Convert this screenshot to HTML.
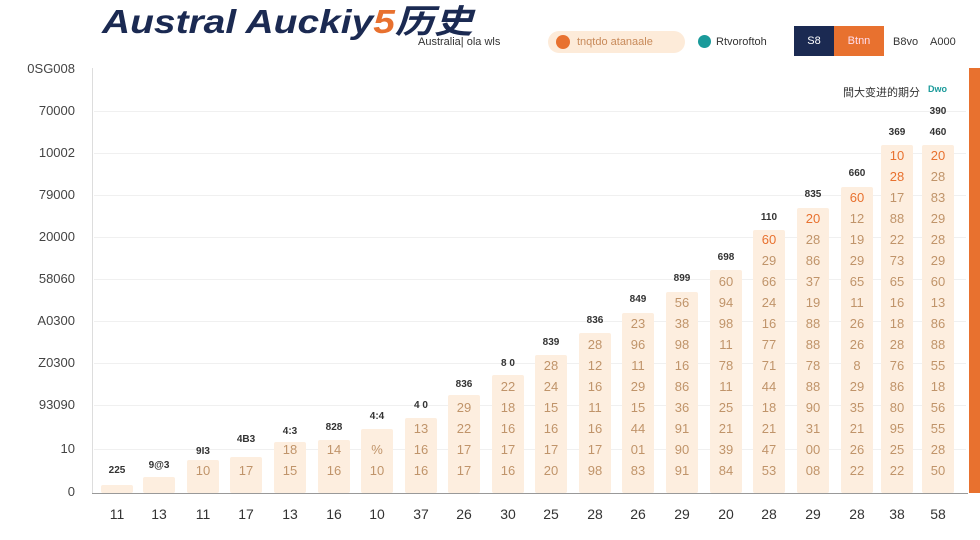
<!DOCTYPE html>
<html><head><meta charset="utf-8"><style>
body{margin:0;width:980px;height:540px;background:#fff;position:relative;overflow:hidden;font-family:"Liberation Sans","Noto Sans CJK SC",sans-serif;}
.a{position:absolute}
.yl{position:absolute;left:0;width:75px;text-align:right;font-size:13px;color:#444}
.g{position:absolute;left:94px;width:872px;height:1px;background:#f0f0f0}
.bar{position:absolute;width:32px;background:#fdeedf;bottom:47px;border-radius:2px}
.c{position:absolute;width:40px;text-align:center;font-size:13px;color:#c0946a}
.t{position:absolute;width:40px;text-align:center;font-size:10px;color:#333;font-weight:bold}
.xl{position:absolute;top:506px;width:40px;text-align:center;font-size:14px;color:#333}
</style></head><body>
<div class="a" style="left:102px;top:-5px;font-size:33px;font-weight:bold;font-style:italic;color:#1b2a52;transform:scaleX(1.18);transform-origin:0 0;white-space:nowrap">Austral Auckiy<span style="color:#e8712f">5</span>历史</div>
<div class="a" style="left:418px;top:36px;font-size:11px;color:#333">Australia| ola wls</div>
<div class="a" style="left:548px;top:31px;width:137px;height:22px;border-radius:11px;background:#fdebd9"></div>
<div class="a" style="left:556px;top:35px;width:14px;height:14px;border-radius:7px;background:#e8712f"></div>
<div class="a" style="left:577px;top:36px;font-size:11px;color:#c88a5a">tnqtdo atanaale</div>
<div class="a" style="left:698px;top:35px;width:13px;height:13px;border-radius:7px;background:#1a9a9a"></div>
<div class="a" style="left:716px;top:36px;font-size:11px;color:#333">Rtvoroftoh</div>
<div class="a" style="left:794px;top:26px;width:40px;height:30px;background:#1b2a52;color:#fff;font-size:11px;text-align:center;line-height:30px">S8</div>
<div class="a" style="left:834px;top:26px;width:50px;height:30px;background:#e8712f;color:#fde;font-size:11px;text-align:center;line-height:30px">Btnn</div>
<div class="a" style="left:893px;top:36px;font-size:11px;color:#333">B8vo</div>
<div class="a" style="left:930px;top:36px;font-size:11px;color:#333">A000</div>
<div class="a" style="left:843px;top:84px;font-size:11px;color:#333">間大变进的期分</div>
<div class="a" style="left:928px;top:84px;font-size:9px;color:#1a9a9a;font-weight:bold">Dwo</div>
<div class="a" style="left:969px;top:68px;width:11px;height:425px;background:#e8712f"></div>
<div class="a" style="left:92px;top:68px;width:1px;height:425px;background:#ddd"></div>
<div class="a" style="left:92px;top:493px;width:876px;height:1px;background:#999"></div>
<div class="g" style="top:111px"></div><div class="g" style="top:153px"></div><div class="g" style="top:195px"></div><div class="g" style="top:237px"></div><div class="g" style="top:279px"></div><div class="g" style="top:321px"></div><div class="g" style="top:363px"></div><div class="g" style="top:405px"></div><div class="g" style="top:449px"></div>
<div class="yl" style="top:61px">0SG008</div><div class="yl" style="top:103px">70000</div><div class="yl" style="top:145px">10002</div><div class="yl" style="top:187px">79000</div><div class="yl" style="top:229px">20000</div><div class="yl" style="top:271px">58060</div><div class="yl" style="top:313px">A0300</div><div class="yl" style="top:355px">Z0300</div><div class="yl" style="top:397px">93090</div><div class="yl" style="top:441px">10</div><div class="yl" style="top:484px">0</div>

<div class="bar" style="left:101px;top:485px"></div><div class="t" style="left:97px;top:465px">225</div>
<div class="bar" style="left:143px;top:477px"></div><div class="t" style="left:139px;top:460px">9@3</div>
<div class="bar" style="left:187px;top:460px"></div><div class="t" style="left:183px;top:446px">9I3</div><div class="c" style="left:183px;top:463px">10</div>
<div class="bar" style="left:230px;top:457px"></div><div class="t" style="left:226px;top:434px">4B3</div><div class="c" style="left:226px;top:463px">17</div>
<div class="bar" style="left:274px;top:442px"></div><div class="t" style="left:270px;top:426px">4:3</div><div class="c" style="left:270px;top:442px">18</div><div class="c" style="left:270px;top:463px">15</div>
<div class="bar" style="left:318px;top:440px"></div><div class="t" style="left:314px;top:422px">828</div><div class="c" style="left:314px;top:442px">14</div><div class="c" style="left:314px;top:463px">16</div>
<div class="bar" style="left:361px;top:429px"></div><div class="t" style="left:357px;top:411px">4:4</div><div class="c" style="left:357px;top:442px">%</div><div class="c" style="left:357px;top:463px">10</div>
<div class="bar" style="left:405px;top:418px"></div><div class="t" style="left:401px;top:400px">4 0</div><div class="c" style="left:401px;top:421px">13</div><div class="c" style="left:401px;top:442px">16</div><div class="c" style="left:401px;top:463px">16</div>
<div class="bar" style="left:448px;top:395px"></div><div class="t" style="left:444px;top:379px">836</div><div class="c" style="left:444px;top:400px">29</div><div class="c" style="left:444px;top:421px">22</div><div class="c" style="left:444px;top:442px">17</div><div class="c" style="left:444px;top:463px">17</div>
<div class="bar" style="left:492px;top:375px"></div><div class="t" style="left:488px;top:358px">8 0</div><div class="c" style="left:488px;top:379px">22</div><div class="c" style="left:488px;top:400px">18</div><div class="c" style="left:488px;top:421px">16</div><div class="c" style="left:488px;top:442px">17</div><div class="c" style="left:488px;top:463px">16</div>
<div class="bar" style="left:535px;top:355px"></div><div class="t" style="left:531px;top:337px">839</div><div class="c" style="left:531px;top:358px">28</div><div class="c" style="left:531px;top:379px">24</div><div class="c" style="left:531px;top:400px">15</div><div class="c" style="left:531px;top:421px">16</div><div class="c" style="left:531px;top:442px">17</div><div class="c" style="left:531px;top:463px">20</div>
<div class="bar" style="left:579px;top:333px"></div><div class="t" style="left:575px;top:315px">836</div><div class="c" style="left:575px;top:337px">28</div><div class="c" style="left:575px;top:358px">12</div><div class="c" style="left:575px;top:379px">16</div><div class="c" style="left:575px;top:400px">11</div><div class="c" style="left:575px;top:421px">16</div><div class="c" style="left:575px;top:442px">17</div><div class="c" style="left:575px;top:463px">98</div>
<div class="bar" style="left:622px;top:313px"></div><div class="t" style="left:618px;top:294px">849</div><div class="c" style="left:618px;top:316px">23</div><div class="c" style="left:618px;top:337px">96</div><div class="c" style="left:618px;top:358px">11</div><div class="c" style="left:618px;top:379px">29</div><div class="c" style="left:618px;top:400px">15</div><div class="c" style="left:618px;top:421px">44</div><div class="c" style="left:618px;top:442px">01</div><div class="c" style="left:618px;top:463px">83</div>
<div class="bar" style="left:666px;top:292px"></div><div class="t" style="left:662px;top:273px">899</div><div class="c" style="left:662px;top:295px">56</div><div class="c" style="left:662px;top:316px">38</div><div class="c" style="left:662px;top:337px">98</div><div class="c" style="left:662px;top:358px">16</div><div class="c" style="left:662px;top:379px">86</div><div class="c" style="left:662px;top:400px">36</div><div class="c" style="left:662px;top:421px">91</div><div class="c" style="left:662px;top:442px">90</div><div class="c" style="left:662px;top:463px">91</div>
<div class="bar" style="left:710px;top:270px"></div><div class="t" style="left:706px;top:252px">698</div><div class="c" style="left:706px;top:274px">60</div><div class="c" style="left:706px;top:295px">94</div><div class="c" style="left:706px;top:316px">98</div><div class="c" style="left:706px;top:337px">11</div><div class="c" style="left:706px;top:358px">78</div><div class="c" style="left:706px;top:379px">11</div><div class="c" style="left:706px;top:400px">25</div><div class="c" style="left:706px;top:421px">21</div><div class="c" style="left:706px;top:442px">39</div><div class="c" style="left:706px;top:463px">84</div>
<div class="bar" style="left:753px;top:230px"></div><div class="t" style="left:749px;top:212px">110</div><div class="c" style="left:749px;top:232px;color:#e8712f">60</div><div class="c" style="left:749px;top:253px">29</div><div class="c" style="left:749px;top:274px">66</div><div class="c" style="left:749px;top:295px">24</div><div class="c" style="left:749px;top:316px">16</div><div class="c" style="left:749px;top:337px">77</div><div class="c" style="left:749px;top:358px">71</div><div class="c" style="left:749px;top:379px">44</div><div class="c" style="left:749px;top:400px">18</div><div class="c" style="left:749px;top:421px">21</div><div class="c" style="left:749px;top:442px">47</div><div class="c" style="left:749px;top:463px">53</div>
<div class="bar" style="left:797px;top:208px"></div><div class="t" style="left:793px;top:189px">835</div><div class="c" style="left:793px;top:211px;color:#e8712f">20</div><div class="c" style="left:793px;top:232px">28</div><div class="c" style="left:793px;top:253px">86</div><div class="c" style="left:793px;top:274px">37</div><div class="c" style="left:793px;top:295px">19</div><div class="c" style="left:793px;top:316px">88</div><div class="c" style="left:793px;top:337px">88</div><div class="c" style="left:793px;top:358px">78</div><div class="c" style="left:793px;top:379px">88</div><div class="c" style="left:793px;top:400px">90</div><div class="c" style="left:793px;top:421px">31</div><div class="c" style="left:793px;top:442px">00</div><div class="c" style="left:793px;top:463px">08</div>
<div class="bar" style="left:841px;top:187px"></div><div class="t" style="left:837px;top:168px">660</div><div class="c" style="left:837px;top:190px;color:#e8712f">60</div><div class="c" style="left:837px;top:211px">12</div><div class="c" style="left:837px;top:232px">19</div><div class="c" style="left:837px;top:253px">29</div><div class="c" style="left:837px;top:274px">65</div><div class="c" style="left:837px;top:295px">11</div><div class="c" style="left:837px;top:316px">26</div><div class="c" style="left:837px;top:337px">26</div><div class="c" style="left:837px;top:358px">8</div><div class="c" style="left:837px;top:379px">29</div><div class="c" style="left:837px;top:400px">35</div><div class="c" style="left:837px;top:421px">21</div><div class="c" style="left:837px;top:442px">26</div><div class="c" style="left:837px;top:463px">22</div>
<div class="bar" style="left:881px;top:145px"></div><div class="t" style="left:877px;top:127px">369</div><div class="c" style="left:877px;top:148px;color:#e8712f">10</div><div class="c" style="left:877px;top:169px;color:#e8712f">28</div><div class="c" style="left:877px;top:190px">17</div><div class="c" style="left:877px;top:211px">88</div><div class="c" style="left:877px;top:232px">22</div><div class="c" style="left:877px;top:253px">73</div><div class="c" style="left:877px;top:274px">65</div><div class="c" style="left:877px;top:295px">16</div><div class="c" style="left:877px;top:316px">18</div><div class="c" style="left:877px;top:337px">28</div><div class="c" style="left:877px;top:358px">76</div><div class="c" style="left:877px;top:379px">86</div><div class="c" style="left:877px;top:400px">80</div><div class="c" style="left:877px;top:421px">95</div><div class="c" style="left:877px;top:442px">25</div><div class="c" style="left:877px;top:463px">22</div>
<div class="bar" style="left:922px;top:145px"></div><div class="t" style="left:918px;top:106px">390</div><div class="t" style="left:918px;top:127px">460</div><div class="c" style="left:918px;top:148px;color:#e8712f">20</div><div class="c" style="left:918px;top:169px">28</div><div class="c" style="left:918px;top:190px">83</div><div class="c" style="left:918px;top:211px">29</div><div class="c" style="left:918px;top:232px">28</div><div class="c" style="left:918px;top:253px">29</div><div class="c" style="left:918px;top:274px">60</div><div class="c" style="left:918px;top:295px">13</div><div class="c" style="left:918px;top:316px">86</div><div class="c" style="left:918px;top:337px">88</div><div class="c" style="left:918px;top:358px">55</div><div class="c" style="left:918px;top:379px">18</div><div class="c" style="left:918px;top:400px">56</div><div class="c" style="left:918px;top:421px">55</div><div class="c" style="left:918px;top:442px">28</div><div class="c" style="left:918px;top:463px">50</div>

<div class="xl" style="left:97px">11</div><div class="xl" style="left:139px">13</div><div class="xl" style="left:183px">11</div><div class="xl" style="left:226px">17</div><div class="xl" style="left:270px">13</div><div class="xl" style="left:314px">16</div><div class="xl" style="left:357px">10</div><div class="xl" style="left:401px">37</div><div class="xl" style="left:444px">26</div><div class="xl" style="left:488px">30</div><div class="xl" style="left:531px">25</div><div class="xl" style="left:575px">28</div><div class="xl" style="left:618px">26</div><div class="xl" style="left:662px">29</div><div class="xl" style="left:706px">20</div><div class="xl" style="left:749px">28</div><div class="xl" style="left:793px">29</div><div class="xl" style="left:837px">28</div><div class="xl" style="left:877px">38</div><div class="xl" style="left:918px">58</div>
</body></html>
